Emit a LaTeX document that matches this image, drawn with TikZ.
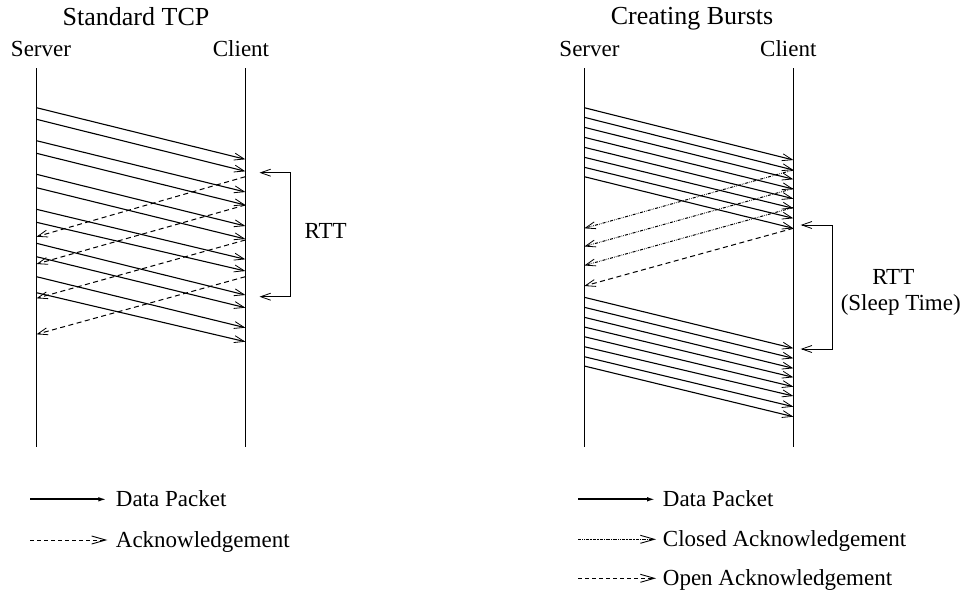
\documentclass[tikz,border=0pt]{standalone}
\usepackage{fontspec}
\setmainfont{Liberation Serif}
\usetikzlibrary{arrows.meta}
\begin{document}
\begin{tikzpicture}[x=1pt,y=-1pt,
  lbl/.style={font=\fontsize{23}{27}\selectfont, inner sep=0pt, anchor=base},
  ttl/.style={font=\fontsize{26}{30}\selectfont, inner sep=0pt, anchor=base},
  life/.style={line width=1pt},
  tip/.style={-{Straight Barb[length=10pt,width=7pt,line width=0.8pt]}},
  datapkt/.style={line width=1.1pt, tip},
  openack/.style={line width=1pt, dash pattern=on 5pt off 3.5pt, tip},
  closedack/.style={line width=1pt, dash pattern=on 3pt off 1.2pt on 0.6pt off 1.2pt on 0.6pt off 1.2pt, tip},
  rttbr/.style={line width=1pt, {Straight Barb[length=10pt,width=7pt,line width=0.8pt]}-{Straight Barb[length=10pt,width=7pt,line width=0.8pt]}},
  legdata/.style={line width=2pt, -{Latex[length=9pt,width=4.5pt]}},
  legtip/.style={-{Straight Barb[length=14pt,width=8pt,line width=0.9pt]}},
  legack/.style={line width=1pt, dash pattern=on 4pt off 3pt, legtip},
  legclosed/.style={line width=1pt, dash pattern=on 3pt off 1pt on 0.6pt off 1pt on 0.6pt off 1pt, legtip},
]
\useasboundingbox (0,0) rectangle (965,592);

% ---------- Left: Standard TCP ----------
\node[ttl] (t1) at (136,25) {Standard TCP};
\node[lbl] (s1) at (41,56.7) {Server};
\node[lbl] (c1) at (241,56.7) {Client};
\coordinate (LStop) at (36.5,68);
\coordinate (LSbot) at (36.5,447);
\coordinate (LCtop) at (245.3,68);
\coordinate (LCbot) at (245.3,447);
\draw[life] (LStop) -- (LSbot);
\draw[life] (LCtop) -- (LCbot);

\foreach \s/\e [count=\i] in {107.7/159.3, 119.3/171.3, 140.7/192, 153.3/205,
   174.3/226, 187.7/239, 209.3/259.3, 222.3/271, 243.3/295, 256.7/307.7,
   276.7/327.7, 292.7/341.7}{
  \coordinate (LD\i a) at (36.5,\s);
  \coordinate (LD\i b) at (245.3,\e);
  \draw[datapkt] (LD\i a) -- (LD\i b);
}
\foreach \s/\e [count=\i] in {176.7/236.7, 205/264, 240/298.3, 276.7/334.3}{
  \coordinate (LA\i a) at (245.3,\s);
  \coordinate (LA\i b) at (36.5,\e);
  \draw[openack] (LA\i a) -- (LA\i b);
}
\coordinate (LR1) at (259.5,172.7);
\coordinate (LR2) at (290.7,172.7);
\coordinate (LR3) at (290.7,296.7);
\coordinate (LR4) at (259.5,296.7);
\draw[rttbr] (LR1) -- (LR2) -- (LR3) -- (LR4);
\node[lbl] (lrtt) at (325.7,238.3) {RTT};

% ---------- Right: Creating Bursts ----------
\node[ttl] (t2) at (692,24.5) {Creating Bursts};
\node[lbl] (s2) at (589.5,56.7) {Server};
\node[lbl] (c2) at (788.3,56.7) {Client};
\coordinate (RStop) at (584.3,68);
\coordinate (RSbot) at (584.3,447);
\coordinate (RCtop) at (793.3,68);
\coordinate (RCbot) at (793.3,447);
\draw[life] (RStop) -- (RSbot);
\draw[life] (RCtop) -- (RCbot);

\foreach \s/\e [count=\i] in {107.7/160, 117.3/170, 127.3/179.3, 137.3/189,
   147.3/198.7, 157.3/208.3, 167.3/218.3, 176.7/228.3}{
  \coordinate (RD\i a) at (584.3,\s);
  \coordinate (RD\i b) at (793.3,\e);
  \draw[datapkt] (RD\i a) -- (RD\i b);
}
\foreach \s/\e [count=\i] in {170/228.3, 188.5/246.5, 207.5/265.5}{
  \coordinate (RC\i a) at (793.3,\s);
  \coordinate (RC\i b) at (584.3,\e);
  \draw[closedack] (RC\i a) -- (RC\i b);
}
\coordinate (RO1a) at (793.3,228.3);
\coordinate (RO1b) at (584.3,286);
\draw[openack] (RO1a) -- (RO1b);

\foreach \s/\e [count=\i] in {297.3/348.3, 307.3/358.3, 317.3/368.3, 327/377.3,
   336.7/386.7, 346.7/396, 356.7/406.7, 366/416.7}{
  \coordinate (RE\i a) at (584.3,\s);
  \coordinate (RE\i b) at (793.3,\e);
  \draw[datapkt] (RE\i a) -- (RE\i b);
}
\coordinate (RR1) at (800.7,225);
\coordinate (RR2) at (832.3,225);
\coordinate (RR3) at (832.3,349);
\coordinate (RR4) at (800.7,349);
\draw[rttbr] (RR1) -- (RR2) -- (RR3) -- (RR4);
\node[lbl] (rrtt) at (893.3,284) {RTT};
\node[lbl] (rsleep) at (900.7,310) {(Sleep Time)};

% ---------- Legends ----------
\coordinate (LL1a) at (30,499.3);   \coordinate (LL1b) at (107.3,499.3);
\draw[legdata] (LL1a) -- (LL1b);
\node[lbl, anchor=base west] (LL1t) at (115.7,506.3) {Data Packet};
\coordinate (LL2a) at (30,540);     \coordinate (LL2b) at (107.3,540);
\draw[legack] (LL2a) -- (LL2b);
\node[lbl, anchor=base west] (LL2t) at (115.7,547) {Acknowledgement};

\coordinate (RL1a) at (578.3,499.3); \coordinate (RL1b) at (656,499.3);
\draw[legdata] (RL1a) -- (RL1b);
\node[lbl, anchor=base west] (RL1t) at (662.7,506.3) {Data Packet};
\coordinate (RL2a) at (578.3,539.3); \coordinate (RL2b) at (656,539.3);
\draw[legclosed] (RL2a) -- (RL2b);
\node[lbl, anchor=base west] (RL2t) at (662.7,546.3) {Closed Acknowledgement};
\coordinate (RL3a) at (578.3,578.3); \coordinate (RL3b) at (656,578.3);
\draw[legack] (RL3a) -- (RL3b);
\node[lbl, anchor=base west] (RL3t) at (662.7,585.3) {Open Acknowledgement};
\end{tikzpicture}
\end{document}
